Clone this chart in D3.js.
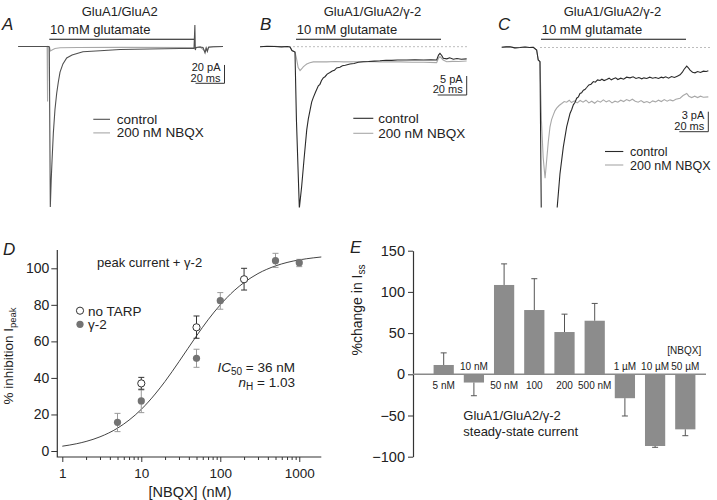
<!DOCTYPE html>
<html><head><meta charset="utf-8">
<script src="https://cdn.jsdelivr.net/npm/d3@7"></script>
<style>
body{margin:0;background:#fff}
svg{display:block}
text{font-family:"Liberation Sans",Arial,Helvetica,sans-serif;fill:#222}
</style>
</head><body>
<svg id="c" width="717" height="500"></svg>
<script>
// ---------- DATA ----------
// Panel A traces: [time ms from glutamate onset, current pA]
const traceA_control = [[-21.5,0],[-0.5,0],[0,-0.5],[0.7,-175],[1.3,-146],[1.9,-124],[2.8,-94],[3.9,-69],[5.1,-51],[6.2,-39],[7.4,-28],[9.4,-19],[12,-12.5],[15.7,-9.3],[23.2,-5.7],[35,-4.6],[48.8,-3.3],[69.4,-2.7],[90.1,-2.2],[99.8,-2.2],[100.4,23.4],[100.7,-3.8],[101.2,-1.1],[104,-0.5],[106,-1],[107.4,-7],[108.2,-2],[109,-5.5],[109.8,-0.8],[113,-0.3],[119.8,0]];
const traceA_nbqx = [[-21.5,0],[-1.5,0],[-1.2,-60],[-0.9,0],[0.1,-0.5],[0.8,-4.9],[1.9,-3.8],[3.9,-2.2],[7.5,-1.4],[20,-1.1],[50,-1.0],[99.8,-1.2],[100.7,-1.4],[104,-0.5],[107.4,-5],[108.2,-1],[109,-4],[110,-0.5],[119.8,0]];
// Panel B traces
const traceB_control = [[-24.8,0],[-20,0.1],[-15,0.05],[-10,-0.05],[-6,0.05],[-4.1,-0.1],[-2.8,-1.0],[-0.7,-1.4],[0.3,-19.3],[2.3,-42.5],[3.9,-36.8],[5.5,-29.8],[7.4,-21.9],[8.5,-19.0],[9.7,-16.7],[10.8,-14.6],[11.9,-13.4],[13.5,-11.9],[15.4,-10.3],[16.5,-9.9],[17.6,-8.9],[18.8,-8.2],[20,-7.9],[21.5,-7.2],[23.4,-6.8],[25,-6.4],[26.5,-6.2],[28,-5.6],[30.3,-5.4],[32,-5.0],[34,-4.9],[37.2,-4.55],[40,-4.4],[43,-4.1],[46.4,-3.95],[50,-3.9],[54,-3.8],[57.9,-3.7],[62,-3.55],[66,-3.6],[70,-3.5],[76.3,-3.5],[82,-3.45],[88,-3.5],[93,-3.45],[97,-3.5],[98.3,-2.2],[99.3,-1.75],[100.5,-2.3],[101.6,-3.05],[104,-3.2],[106,-2.9],[108.5,-3.3],[111,-3.1],[114,-3.3],[117.7,-3.2]];
const traceB_nbqx = [[-24.8,0],[-20,0.05],[-15,0.1],[-10,0],[-6,0.05],[-4.1,-0.1],[-2.8,-1.0],[-0.7,-1.4],[0.3,-3.0],[1.5,-5.5],[2.8,-6.3],[4,-5.8],[5,-5.3],[6.2,-4.9],[7.4,-4.55],[9.5,-4.2],[11.9,-4.0],[16,-3.95],[21.2,-4.0],[27,-3.9],[33,-4.0],[41.9,-3.95],[50,-3.9],[58,-4.0],[64.8,-3.95],[72,-4.0],[80,-4.1],[88,-4.1],[97,-4.2],[98.3,-3.0],[99.3,-2.6],[101.5,-3.5],[103.9,-3.95],[108,-3.85],[112,-3.9],[117.7,-3.75]];
// Panel C traces
const traceC_control = [[-27.1,0.03],[-24,0.1],[-21.4,0.1],[-18,-0.05],[-14.5,0],[-11,0.08],[-8,0.0],[-5.3,0.03],[-3.0,-0.37],[-1.9,-1.87],[-0.7,-2.13],[0.3,-27.4],[3,-40],[8,-36],[11.2,-23.9],[13.1,-18.9],[15.4,-14.9],[17.7,-11.9],[20,-9.9],[21.2,-9.3],[22.3,-8.6],[23.5,-8.2],[24.6,-7.6],[25.8,-7.4],[26.9,-6.9],[28,-6.8],[29.2,-6.4],[30.3,-6.3],[31.5,-6.0],[33,-5.6],[34.5,-5.5],[36.1,-5.1],[37.5,-5.2],[39,-4.85],[40.7,-4.95],[42,-4.75],[43.5,-4.95],[45.3,-4.8],[47,-4.6],[48.5,-4.85],[49.9,-4.7],[51.5,-4.55],[53,-4.8],[55,-4.6],[57,-4.75],[59,-4.45],[61.4,-4.55],[63.5,-4.4],[65.5,-4.65],[67.5,-4.5],[69.5,-4.7],[71,-4.55],[72.9,-4.65],[75,-4.45],[77,-4.6],[79,-4.5],[81,-4.65],[83,-4.45],[84.3,-4.55],[86,-4.4],[88,-4.6],[90,-4.35],[92,-4.5],[94,-4.3],[95.9,-4.1],[97.5,-3.7],[98.6,-3.3],[100.5,-2.8],[101.8,-3.1],[102.8,-3.4],[104.5,-3.7],[106.2,-3.8],[108,-3.6],[110,-3.75],[112,-3.55],[114,-3.6],[115.4,-3.5]];
const traceC_nbqx = [[-27.1,0.03],[-24,0.1],[-21.4,0.1],[-18,-0.05],[-14.5,0],[-11,0.08],[-8,0.0],[-5.3,0.03],[-3.0,-0.37],[-1.9,-1.87],[-0.7,-2.13],[0.3,-10.9],[1.5,-16.5],[2.8,-19.6],[3.9,-16.9],[5,-14.2],[6.2,-11.9],[7.3,-10.8],[8.5,-10.1],[9.6,-9.5],[10.8,-9.1],[12.5,-8.7],[14.3,-8.4],[16,-8.1],[17.7,-8.2],[19.5,-7.9],[21,-8.25],[23,-8.0],[25,-8.3],[27,-7.95],[29,-8.2],[31,-7.9],[33,-8.3],[35,-8.05],[37,-8.35],[39,-8.0],[41,-8.2],[43,-7.85],[45,-8.15],[47,-7.95],[49,-8.3],[51,-8.05],[53,-8.2],[55,-7.9],[57,-8.1],[59,-7.8],[61,-8.0],[63,-7.75],[65,-8.05],[67,-8.2],[69,-7.95],[71,-8.25],[73,-8.1],[75,-8.3],[77,-8.0],[79,-8.15],[81,-7.9],[83,-8.1],[85,-7.8],[87,-8.05],[89,-7.85],[91,-8.0],[93,-7.75],[95.9,-7.6],[98,-7.2],[100.5,-6.9],[102,-7.3],[103.9,-7.5],[106,-7.3],[108,-7.5],[110,-7.3],[112,-7.45],[115.4,-7.4]];

// Panel D: dose-response
const doseNoTarp = [10, 50, 200];
const inhNoTarp = [37.0, 67.7, 94.0];
const errNoTarpLo = [33.8, 61.7, 88.1];
const errNoTarpHi = [40.3, 73.9, 100.0];
const doseG2 = [5, 10, 50, 100, 500, 1000];
const inhG2 = [15.7, 27.4, 50.7, 82.3, 104.2, 103.1];
const errG2Lo = [10.6, 21.0, 45.8, 77.6, 100.5, 100.9];
const errG2Hi = [20.6, 33.4, 55.7, 86.7, 108.2, 104.9];
const fitDose = [1, 1.5, 2, 3, 5, 7, 10, 15, 20, 30, 50, 70, 100, 150, 200, 300, 500, 700, 1000, 1500, 1900];
const fitInh = [2.63, 3.94, 5.23, 7.75, 12.5, 16.9, 22.8, 31.2, 38.1, 48.9, 63.0, 71.8, 80.0, 87.8, 92.2, 97.1, 101.3, 103.2, 104.6, 105.7, 106.2];
const dTickX = [1, 10, 100, 1000];
const dTickY = [0, 20, 40, 60, 80, 100];

// Panel E: steady-state change
const eCategories = ["5 nM", "10 nM", "50 nM", "100", "200", "500 nM", "1 µM", "10 µM", "50 µM"];
const eValues = [11.3, -10, 108.4, 78, 51.3, 65, -29, -87, -66.8];
const eErrors = [26, -26, 134, 116, 73, 86, -50.6, -88.6, -74.5];
const eTickY = [-100, -50, 0, 50, 100, 150];

// ---------- DRAW ----------
const svg = d3.select("#c");
const CTRL = "#2a2a2a", NBQX = "#a8a8a8";

function txt(g, x, y, s, opt) {
  opt = opt || {};
  return g.append("text").attr("x", x).attr("y", y).text(s)
    .attr("font-size", opt.size || 13)
    .attr("text-anchor", opt.anchor || "start")
    .attr("font-style", opt.italic ? "italic" : null);
}

// ---- trace panels ----
function tracePanel(cfg) {
  const g = svg.append("g");
  const x = d3.scaleLinear().domain([0, 100]).range([cfg.x0, cfg.x0 + 145]);
  const y = d3.scaleLinear().domain([0, -1]).range([cfg.yb, cfg.yb + cfg.k]);
  txt(g, cfg.tx, 15.5, cfg.title, {anchor: "middle"});
  txt(g, cfg.lx, 30, cfg.letter, {size: 17, italic: true});
  txt(g, x(0) + 0.7, 34, "10 mM glutamate");
  g.append("line").attr("x1", x(0)).attr("x2", x(100)).attr("y1", 39.3).attr("y2", 39.3)
    .attr("stroke", "#111").attr("stroke-width", 1.1);
  if (cfg.dash) {
    g.append("line").attr("x1", cfg.dash[0]).attr("x2", cfg.dash[1]).attr("y1", y(0)).attr("y2", y(0))
      .attr("stroke", "#bdbdbd").attr("stroke-width", 1).attr("stroke-dasharray", "2,2");
  }
  const clipId = "clip" + cfg.letter;
  svg.append("clipPath").attr("id", clipId).append("rect")
    .attr("x", 0).attr("y", 0).attr("width", 717).attr("height", 207.5);
  const line = d3.line().x(d => x(d[0])).y(d => y(d[1]));
  const tg = g.append("g").attr("clip-path", "url(#" + clipId + ")");
  tg.append("path").datum(cfg.nbqx).attr("d", line).attr("fill", "none")
    .attr("stroke", NBQX).attr("stroke-width", 1.1);
  tg.append("path").datum(cfg.control).attr("d", line).attr("fill", "none")
    .attr("stroke", cfg.ctrlColor || CTRL).attr("stroke-width", 1.1);
  // scale bar
  const sb = cfg.sb;
  const vTop = sb.y - (y(-sb.pA) - y(0));
  const hLeft = sb.x - (x(20) - x(0));
  g.append("path").attr("d", `M${sb.x},${vTop}V${sb.y}H${hLeft}`)
    .attr("fill", "none").attr("stroke", "#333").attr("stroke-width", 1);
  txt(g, sb.x - 4, sb.y - 12.5, sb.pA + " pA", {size: 11, anchor: "end"});
  txt(g, sb.x - 4, sb.y - 1.8, "20 ms", {size: 11, anchor: "end"});
  // legend
  const L = cfg.leg;
  g.append("line").attr("x1", L.x).attr("x2", L.x + L.w).attr("y1", L.y).attr("y2", L.y)
    .attr("stroke", cfg.ctrlColor || CTRL).attr("stroke-width", 1.1);
  g.append("line").attr("x1", L.x).attr("x2", L.x + L.w).attr("y1", L.y + L.dy).attr("y2", L.y + L.dy)
    .attr("stroke", NBQX).attr("stroke-width", 1.1);
  txt(g, L.tx, L.y + 4.5, "control", {size: L.size || 13.5});
  txt(g, L.tx, L.y + L.dy + 4.5, "200 nM NBQX", {size: L.size || 13.5});
}

tracePanel({letter: "A", lx: 2, title: "GluA1/GluA2", tx: 119.7, x0: 49.3, yb: 46.5, k: 0.917,
  control: traceA_control, nbqx: traceA_nbqx, ctrlColor: "#505050",
  sb: {x: 224.5, y: 83.3, pA: 20}, leg: {x: 93.3, w: 16.7, y: 119.3, dy: 13.6, tx: 116.7}});
tracePanel({letter: "B", lx: 260, title: "GluA1/GluA2/γ-2", tx: 372.5, x0: 296, yb: 46.7, k: 3.8,
  control: traceB_control, nbqx: traceB_nbqx, dash: [293, 467],
  sb: {x: 466.7, y: 95, pA: 5}, leg: {x: 353.3, w: 20, y: 118.3, dy: 15, tx: 378.3}});
tracePanel({letter: "C", lx: 498, title: "GluA1/GluA2/γ-2", tx: 612.5, x0: 541, yb: 47.5, k: 6.67,
  control: traceC_control, nbqx: traceC_nbqx, dash: [540, 710],
  sb: {x: 708.3, y: 131.7, pA: 3}, leg: {x: 605, w: 18.3, y: 151.5, dy: 13.5, tx: 630, size: 12.5}});

// ---- Panel D ----
(function() {
  const g = svg.append("g");
  const xD = d3.scaleLog().domain([1, 1900]).range([62.3, 321.3]);
  const yD = d3.scaleLinear().domain([0, 100]).range([451, 268.3]);
  const axY = 57.3, axX = 457;
  txt(g, 3, 255, "D", {size: 17, italic: true});
  g.append("path").attr("d", `M${axY},250V${axX}H${xD.range()[1]}`).attr("fill", "none")
    .attr("stroke", "#333").attr("stroke-width", 1.2);
  const gx = g.append("g").attr("transform", `translate(0,${axX})`)
    .call(d3.axisBottom(xD).tickValues(dTickX).tickFormat(d3.format("d")).tickSize(5).tickPadding(6.5));
  const minor = [];
  [1, 10, 100, 1000].forEach(dec => [2,3,4,5,6,7,8,9].forEach(m => { if (dec*m <= 1900) minor.push(dec*m); }));
  const gxm = g.append("g").attr("transform", `translate(0,${axX})`)
    .call(d3.axisBottom(xD).tickValues(minor).tickFormat("").tickSize(3));
  const gy = g.append("g").attr("transform", `translate(${axY},0)`)
    .call(d3.axisLeft(yD).tickValues(dTickY).tickSize(6).tickPadding(2));
  [gx, gxm, gy].forEach(a => {
    a.select(".domain").remove();
    a.selectAll("line").attr("stroke", "#333");
    a.selectAll("text").attr("font-size", 14).attr("font-family", '"Liberation Sans",Arial,sans-serif').attr("fill", "#222");
  });
  gx.selectAll("text").attr("font-size", 13.5);
  txt(g, 190, 497, "[NBQX] (nM)", {size: 14.5, anchor: "middle"});
  const yl = g.append("text").attr("transform", "translate(13,356) rotate(-90)")
    .attr("text-anchor", "middle").attr("font-size", 13.5);
  yl.append("tspan").text("% inhibition I");
  yl.append("tspan").text("peak").attr("font-size", 9.5).attr("dy", 3);
  g.append("path").datum(fitDose.map((d, i) => [d, fitInh[i]]))
    .attr("d", d3.line().curve(d3.curveMonotoneX).x(d => xD(d[0])).y(d => yD(d[1])))
    .attr("fill", "none").attr("stroke", "#444").attr("stroke-width", 1);
  const cap = 3;
  doseG2.forEach((d, i) => {
    const x = xD(d);
    g.append("path").attr("d", `M${x},${yD(errG2Lo[i])}V${yD(errG2Hi[i])}M${x-cap},${yD(errG2Lo[i])}H${x+cap}M${x-cap},${yD(errG2Hi[i])}H${x+cap}`)
      .attr("stroke", "#9a9a9a").attr("stroke-width", 1).attr("fill", "none");
  });
  g.selectAll(".g2").data(doseG2).join("circle").attr("cx", d => xD(d)).attr("cy", (d, i) => yD(inhG2[i]))
    .attr("r", 3.6).attr("fill", "#737373");
  doseNoTarp.forEach((d, i) => {
    const x = xD(d);
    g.append("path").attr("d", `M${x},${yD(errNoTarpLo[i])}V${yD(errNoTarpHi[i])}M${x-cap},${yD(errNoTarpLo[i])}H${x+cap}M${x-cap},${yD(errNoTarpHi[i])}H${x+cap}`)
      .attr("stroke", "#333").attr("stroke-width", 1).attr("fill", "none");
  });
  g.selectAll(".nt").data(doseNoTarp).join("circle").attr("cx", d => xD(d)).attr("cy", (d, i) => yD(inhNoTarp[i]))
    .attr("r", 3.6).attr("fill", "#fff").attr("stroke", "#333").attr("stroke-width", 1);
  g.append("circle").attr("cx", 80).attr("cy", 310.7).attr("r", 3.6).attr("fill", "#fff").attr("stroke", "#333");
  g.append("circle").attr("cx", 80).attr("cy", 324.3).attr("r", 3.6).attr("fill", "#737373");
  txt(g, 88, 315.5, "no TARP", {size: 13.5});
  txt(g, 88, 329, "γ-2", {size: 13.5});
  txt(g, 97, 267, "peak current + γ-2", {size: 13});
  const t1 = g.append("text").attr("x", 295).attr("y", 371.5).attr("text-anchor", "end").attr("font-size", 13.5);
  t1.append("tspan").text("IC").attr("font-style", "italic");
  t1.append("tspan").text("50").attr("font-size", 10).attr("dy", 3);
  t1.append("tspan").text(" = 36 nM").attr("dy", -3);
  const t2 = g.append("text").attr("x", 295).attr("y", 386.5).attr("text-anchor", "end").attr("font-size", 13.5);
  t2.append("tspan").text("n").attr("font-style", "italic");
  t2.append("tspan").text("H").attr("font-size", 10).attr("dy", 3);
  t2.append("tspan").text(" = 1.03").attr("dy", -3);
})();

// ---- Panel E ----
(function() {
  const g = svg.append("g");
  const yE = d3.scaleLinear().domain([-100, 150]).range([456.7, 250.7]);
  const xE = d3.scaleBand().domain(eCategories).range([428.6, 700.4]).paddingInner(0.33).paddingOuter(0.165);
  const axY = 413;
  txt(g, 350, 253, "E", {size: 17, italic: true});
  const gy = g.append("g").attr("transform", `translate(${axY},0)`)
    .call(d3.axisLeft(yE).tickValues(eTickY).tickSize(5).tickSizeOuter(0).tickPadding(3)
      .tickFormat(d => d < 0 ? "\u2212" + Math.abs(d) : d));
  gy.select(".domain").attr("stroke", "#333").attr("stroke-width", 1.2);
  gy.selectAll("line").attr("stroke", "#333");
  gy.selectAll("text").attr("font-size", 14.5).attr("font-family", '"Liberation Sans",Arial,sans-serif').attr("fill", "#222");
  const yl = g.append("text").attr("transform", "translate(362,310) rotate(-90)")
    .attr("text-anchor", "middle").attr("font-size", 14);
  yl.append("tspan").text("%change in I");
  yl.append("tspan").text("ss").attr("font-size", 10).attr("dy", 3);
  g.selectAll(".bar").data(eCategories).join("rect")
    .attr("x", d => xE(d)).attr("width", xE.bandwidth())
    .attr("y", (d, i) => yE(Math.max(0, eValues[i])))
    .attr("height", (d, i) => Math.abs(yE(eValues[i]) - yE(0)))
    .attr("fill", "#8c8c8c");
  eCategories.forEach((c, i) => {
    const x = xE(c) + xE.bandwidth() / 2;
    g.append("path").attr("d", `M${x},${yE(eValues[i])}V${yE(eErrors[i])}M${x-3},${yE(eErrors[i])}H${x+3}`)
      .attr("stroke", "#555").attr("stroke-width", 1).attr("fill", "none");
  });
  g.append("line").attr("x1", axY).attr("x2", 706).attr("y1", yE(0)).attr("y2", yE(0))
    .attr("stroke", "#8a8a8a").attr("stroke-width", 1.5);
  eCategories.forEach((c, i) => {
    const x = xE(c) + xE.bandwidth() / 2;
    const y = eValues[i] >= 0 ? 389 : 370;
    txt(g, x, y, c, {size: 10, anchor: "middle"});
  });
  txt(g, xE("50 µM") + xE.bandwidth() / 2 - 1, 353.5, "[NBQX]", {size: 10, anchor: "middle"});
  txt(g, 463.3, 420, "GluA1/GluA2/γ-2", {size: 13});
  txt(g, 463.3, 436, "steady-state current", {size: 13});
})();
</script>
</body></html>
